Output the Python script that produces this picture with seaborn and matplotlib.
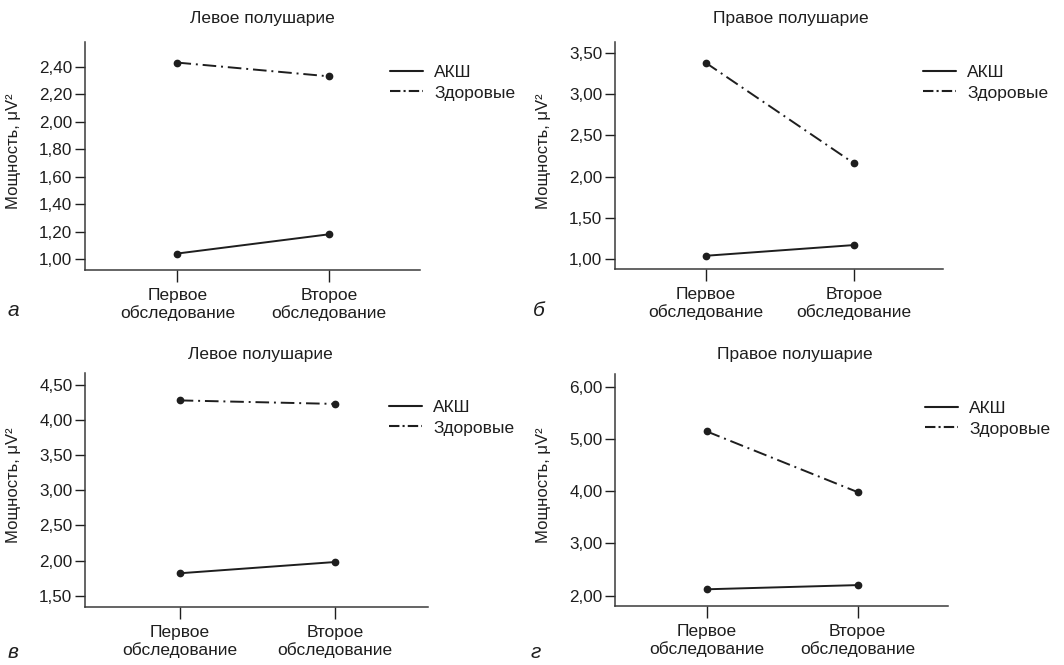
import pandas as pd
import matplotlib.pyplot as plt
import seaborn as sns
from matplotlib.lines import Line2D

# -----------------------------
# Data
# -----------------------------
visits = ["Первое\nобследование", "Второе\nобследование"]
groups = ["АКШ", "Здоровые"]

# panel a: left hemisphere, top row
a_akш = [1.04, 1.18]
a_healthy = [2.43, 2.33]
# panel b: right hemisphere, top row
b_akш = [1.04, 1.17]
b_healthy = [3.38, 2.16]
# panel c: left hemisphere, bottom row
c_akш = [1.82, 1.98]
c_healthy = [4.28, 4.23]
# panel d: right hemisphere, bottom row
d_akш = [2.12, 2.20]
d_healthy = [5.14, 3.98]

titles = ["Левое полушарие", "Правое полушарие", "Левое полушарие", "Правое полушарие"]
letters = ["а", "б", "в", "г"]
yticks = [
    [1.0, 1.2, 1.4, 1.6, 1.8, 2.0, 2.2, 2.4],
    [1.0, 1.5, 2.0, 2.5, 3.0, 3.5],
    [1.5, 2.0, 2.5, 3.0, 3.5, 4.0, 4.5],
    [2.0, 3.0, 4.0, 5.0, 6.0],
]
ylims = [(0.92, 2.58), (0.88, 3.63), (1.34, 4.67), (1.80, 6.24)]
ylabel = "Мощность, μV²"

series = [(a_akш, a_healthy), (b_akш, b_healthy), (c_akш, c_healthy), (d_akш, d_healthy)]

# -----------------------------
# Layout (pixel boxes measured on the reference)
# -----------------------------
W, H = 1064, 665
boxes = [(85, 42, 420, 270), (615, 42, 943, 269), (85, 373, 428, 607), (615, 374, 948, 606)]
title_pos = [(262, 18), (791, 18), (260, 355), (795, 354)]
legend_pos = [(390, 65), (923, 65), (389, 400), (925, 401)]
letter_pos = [(8, 311), (533, 311), (8, 652), (531, 652)]

ink = "#1e1e1e"
dashdot = (0, (7, 2.5, 1, 2.5))

sns.set_style("white")
plt.rcParams["font.family"] = ["Liberation Sans", "DejaVu Sans"]
plt.rcParams["text.color"] = ink
plt.rcParams["axes.labelcolor"] = ink
plt.rcParams["xtick.color"] = ink
plt.rcParams["ytick.color"] = ink

fig = plt.figure(figsize=(W / 100, H / 100), dpi=100)

for i, (akш, healthy) in enumerate(series):
    l, t, r, b = boxes[i]
    ax = fig.add_axes([l / W, 1 - b / H, (r - l) / W, (b - t) / H])

    df = pd.DataFrame({
        "visit": visits * 2,
        "value": akш + healthy,
        "group": [groups[0]] * 2 + [groups[1]] * 2,
    })
    sns.pointplot(
        data=df, x="visit", y="value", hue="group", order=visits,
        hue_order=groups, palette=[ink, ink], markers="o",
        linestyles=["-", dashdot], errorbar=None, dodge=False,
        markersize=4.5, linewidth=1.4, ax=ax, legend=False,
    )

    ax.set_xlim(-0.61, 1.6)
    ax.set_ylim(*ylims[i])
    ax.set_yticks(yticks[i])
    ax.set_yticklabels([f"{v:.2f}".replace(".", ",") for v in yticks[i]])
    ax.set_xlabel("")
    ax.set_ylabel(ylabel, fontsize=12)
    ax.yaxis.set_label_coords(-0.19 * 335 / (r - l), 0.52)

    for side in ["top", "right"]:
        ax.spines[side].set_visible(False)
    for side in ["left", "bottom"]:
        ax.spines[side].set_color("#3a3a3a")
        ax.spines[side].set_linewidth(1.1)

    ax.tick_params(axis="y", length=7, width=1, pad=2, labelsize=12.3, left=True)
    ax.tick_params(axis="x", length=8.5, width=1, pad=4.5, labelsize=12.5, bottom=True)
    for lab in ax.get_xticklabels():
        lab.set_linespacing(1.2)

    handles = [
        Line2D([], [], color=ink, lw=1.5, linestyle="-"),
        Line2D([], [], color=ink, lw=1.5, linestyle=(0, (5, 1.5, 1, 1.5))),
    ]
    lx, ly = legend_pos[i]
    ax.legend(
        handles, groups, loc="upper left", bbox_to_anchor=(lx / W, 1 - ly / H),
        bbox_transform=fig.transFigure, frameon=False, fontsize=12.5,
        borderpad=0, borderaxespad=0, handlelength=1.9, handletextpad=0.65,
        labelspacing=0.3,
    )

    tx, ty = title_pos[i]
    fig.text(tx / W, 1 - ty / H, titles[i], ha="center", va="center", fontsize=12.5)
    px, py = letter_pos[i]
    fig.text(px / W, 1 - py / H, letters[i], ha="left", va="center",
             fontsize=15, style="italic")

plt.savefig("out.png", dpi=100)
plt.close()
